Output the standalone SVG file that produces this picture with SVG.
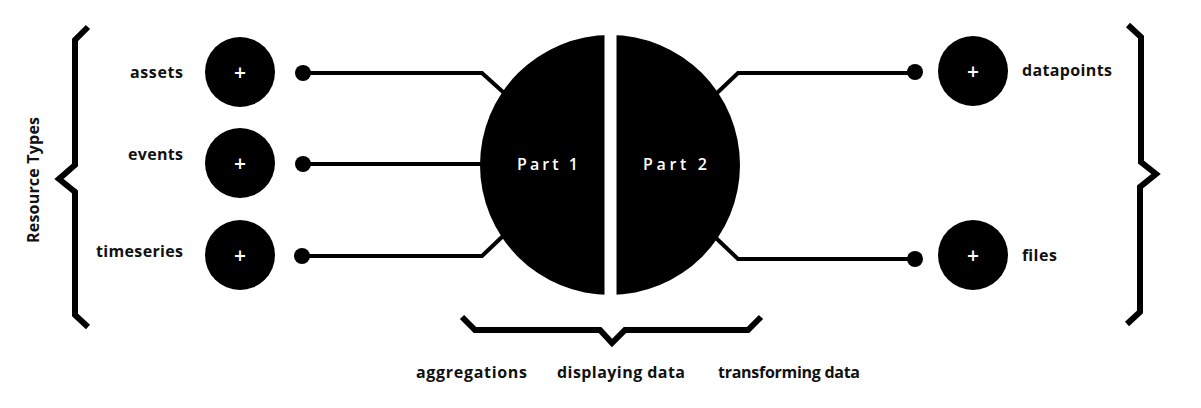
<svg xmlns="http://www.w3.org/2000/svg" width="1201" height="408" viewBox="0 0 1201 408">
  <style>
    .lbl { font-family: "Open Sans", "Liberation Sans", sans-serif; font-weight: 700; font-size: 16px; fill: #111; }
    .node { fill: #000; }
    .plus { font-family: "Open Sans", "Liberation Sans", sans-serif; font-weight: 600; font-size: 21px; fill: #fff; text-anchor: middle; }
    .part { font-family: "Open Sans", "Liberation Sans", sans-serif; font-weight: 600; font-size: 16px; fill: #fff; }
    .brace { fill: none; stroke: #000; stroke-width: 6; stroke-linejoin: miter; }
    .wire { fill: none; stroke: #000; stroke-width: 4; stroke-linejoin: miter; }
    .dot { fill: #000; }
  </style>
  <rect width="1201" height="408" fill="#fff"/>

  <!-- braces -->
  <g id="brace-left">
    <path class="brace" d="M88,27 L75,40 L75,165 L59,179 L75,192 L75,315 L88,327"/>
    <text class="lbl" transform="translate(39,180) rotate(-90)" text-anchor="middle" textLength="126" lengthAdjust="spacing">Resource Types</text>
  </g>
  <g id="brace-right">
    <path class="brace" d="M1128,25 L1141,37 L1141,162 L1156,174 L1140,187 L1140,312 L1127,324"/>
  </g>
  <g id="brace-bottom">
    <path class="brace" d="M462,317 L475,330 L600,330 L612,343 L625,330 L748,330 L761,317"/>
  </g>

  <!-- connectors -->
  <g id="connectors">
    <path class="wire" d="M303,73 L482,73 L503,92"/>
    <path class="wire" d="M303,164 L483,164"/>
    <path class="wire" d="M302,256 L482,256 L503,236"/>
    <path class="wire" d="M717,93 L738,73 L916,73"/>
    <path class="wire" d="M716,238 L738,259 L916,259"/>
    <circle class="dot" cx="303" cy="73" r="8"/>
    <circle class="dot" cx="303" cy="164" r="8"/>
    <circle class="dot" cx="302" cy="256" r="8"/>
    <circle class="dot" cx="915" cy="72" r="8"/>
    <circle class="dot" cx="915" cy="259" r="8"/>
  </g>

  <!-- central node -->
  <g id="center">
    <circle class="node" cx="610" cy="165" r="130"/>
    <rect x="604.5" y="30" width="12" height="270" fill="#fff"/>
    <text class="part" x="517" y="170" textLength="61" lengthAdjust="spacing">Part 1</text>
    <text class="part" x="643" y="170" textLength="64" lengthAdjust="spacing">Part 2</text>
  </g>

  <!-- left nodes -->
  <g id="assets">
    <circle class="node" cx="240" cy="72" r="35"/>
    <text class="plus" x="240" y="80">+</text>
    <text class="lbl" x="130" y="77.5" textLength="53" lengthAdjust="spacing">assets</text>
  </g>
  <g id="events">
    <circle class="node" cx="240" cy="163" r="35"/>
    <text class="plus" x="240" y="171">+</text>
    <text class="lbl" x="128" y="159.5" textLength="55" lengthAdjust="spacing">events</text>
  </g>
  <g id="timeseries">
    <circle class="node" cx="240" cy="255" r="35"/>
    <text class="plus" x="240" y="263">+</text>
    <text class="lbl" x="96" y="257" textLength="87" lengthAdjust="spacing">timeseries</text>
  </g>

  <!-- right nodes -->
  <g id="datapoints">
    <circle class="node" cx="973" cy="71" r="35"/>
    <text class="plus" x="973" y="79">+</text>
    <text class="lbl" x="1022" y="75.5" textLength="90" lengthAdjust="spacing">datapoints</text>
  </g>
  <g id="files">
    <circle class="node" cx="973" cy="255" r="35"/>
    <text class="plus" x="973" y="263">+</text>
    <text class="lbl" x="1022" y="261" textLength="35" lengthAdjust="spacing">files</text>
  </g>

  <!-- bottom labels -->
  <g id="bottom-labels">
    <text class="lbl" x="416" y="378" textLength="111" lengthAdjust="spacing">aggregations</text>
    <text class="lbl" x="557" y="378" textLength="128" lengthAdjust="spacing">displaying data</text>
    <text class="lbl" x="718" y="378" textLength="142" lengthAdjust="spacing">transforming data</text>
  </g>
</svg>
